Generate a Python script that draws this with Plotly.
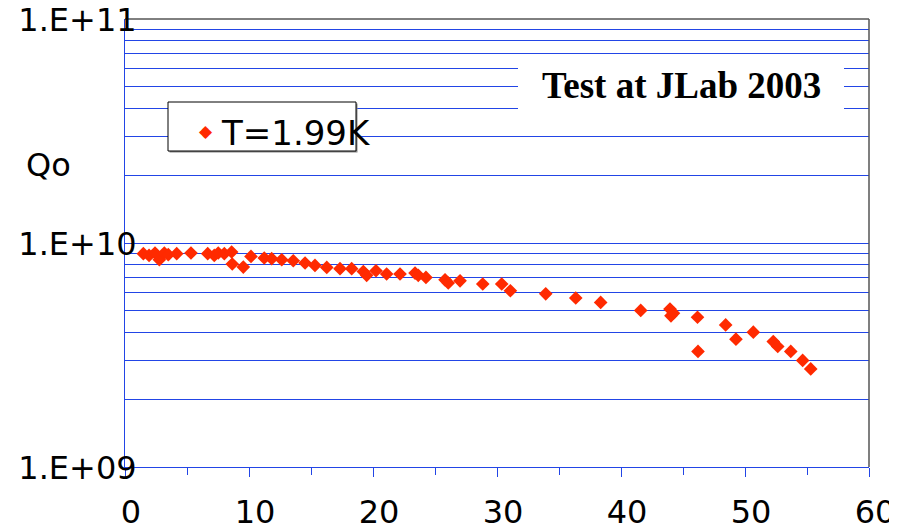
import plotly.graph_objects as go

# ---- data ----
energy = [1.48, 1.94, 2.42, 2.77, 3.17, 3.49, 4.17, 5.32, 6.67, 7.20, 7.52, 8.01,
          8.60, 8.65, 9.54, 10.16, 11.23, 11.83, 12.64, 13.57, 14.52, 15.32, 16.27,
          17.34, 18.28, 19.22, 19.49, 20.24, 21.10, 22.18, 23.39, 23.65, 24.27, 25.81,
          26.07, 27.02, 28.85, 30.38, 31.08, 33.93, 36.35, 38.36, 41.59, 43.95, 44.23,
          44.03, 46.17, 46.21, 48.44, 49.27, 50.67, 52.28, 52.64, 53.69, 54.65, 55.30]
q0_e9 = [8.96, 8.80, 9.02, 8.42, 9.02, 8.87, 8.96, 9.02, 8.96, 8.80, 9.02, 8.96,
         9.12, 8.06, 7.81, 8.71, 8.57, 8.51, 8.42, 8.33, 8.14, 7.94, 7.78,
         7.68, 7.68, 7.46, 7.17, 7.52, 7.27, 7.27, 7.34, 7.17, 7.02, 6.85,
         6.63, 6.78, 6.56, 6.56, 6.12, 5.93, 5.68, 5.43, 5.00, 5.07, 4.86,
         4.73, 4.66, 3.28, 4.31, 3.72, 4.00, 3.63, 3.45, 3.28, 2.99, 2.74]
q0 = [v * 1e9 for v in q0_e9]

series_name = "T=1.99K"
title_text = "Test at JLab 2003"
y_title = "Qo"
x_tickvals = [0, 10, 20, 30, 40, 50, 60]
x_ticktext = ["0", "10", "20", "30", "40", "50", "60"]
y_decades = [1e9, 1e10, 1e11]
y_decade_text = ["1.E+09", "1.E+10", "1.E+11"]

# gridline positions (every 1..9 x decade)
y_tickvals = []
y_ticktext = []
for d, lab in zip(y_decades[:-1], y_decade_text[:-1]):
    for m in range(1, 10):
        y_tickvals.append(m * d)
        y_ticktext.append(lab if m == 1 else "")
y_tickvals.append(y_decades[-1])
y_ticktext.append(y_decade_text[-1])

BLUE = "#2245e6"
RED = "#ff2a00"
FONT = "DejaVu Sans"

fig = go.Figure()
fig.add_trace(go.Scatter(
    x=energy, y=q0, mode="markers", name=series_name, showlegend=False,
    marker=dict(symbol="diamond", size=10.5, color=RED, line=dict(width=0)),
))

# page body has an 8px margin, so the figure is offset by (8, 8) in the window
fig.update_layout(
    template="none",
    width=897, height=531,
    margin=dict(l=117, r=36, t=11, b=72, pad=0),
    paper_bgcolor="white", plot_bgcolor="white",
    font=dict(family=FONT, size=32, color="black"),
    xaxis=dict(
        range=[0, 60], tickvals=x_tickvals, ticktext=x_ticktext,
        showgrid=False, zeroline=False, automargin=False,
        showline=True, linecolor=BLUE, linewidth=1,
        ticks="outside", ticklen=9, tickcolor=BLUE, tickwidth=1,
        minor=dict(dtick=5, ticks="outside", ticklen=7, tickcolor=BLUE, tickwidth=1, showgrid=False),
        tickfont=dict(family=FONT, size=32, color="black"),
        ticklabeloverflow="allow", ticklabelshift=6, ticklabelstandoff=8,
    ),
    yaxis=dict(
        type="log", range=[9, 11],
        tickvals=y_tickvals, ticktext=y_ticktext,
        showgrid=True, gridcolor=BLUE, gridwidth=1,
        zeroline=False, automargin=False,
        showline=True, linecolor=BLUE, linewidth=1,
        ticks="inside", ticklen=8, tickcolor=BLUE, tickwidth=1,
        tickfont=dict(family=FONT, size=32, color="black"),
        ticklabeloverflow="allow", ticklabelstandoff=-19, ticklabelshift=1,
    ),
)

W, H = 744.0, 448.0
def px(x):
    return (x - 125) / W
def py(y):
    return (467 - y) / H

shapes = [
    # top border (black) and right border (gray)
    dict(type="line", xref="paper", yref="paper", x0=0, x1=1, y0=1, y1=1,
         line=dict(color="black", width=1)),
    dict(type="line", xref="paper", yref="paper", x0=1, x1=1, y0=0, y1=1,
         line=dict(color="#555555", width=1.5)),
    # outer frame line at right edge
    dict(type="line", xref="paper", yref="paper", x0=px(894.5), x1=px(894.5), y0=py(531), y1=py(0),
         line=dict(color="black", width=2)),
    # title box (white, no border)
    dict(type="rect", xref="paper", yref="paper", x0=px(518), x1=px(844), y0=py(120), y1=py(54),
         fillcolor="white", line=dict(width=0)),
    # legend box shadow and box
    dict(type="rect", xref="paper", yref="paper", x0=px(169.5), x1=px(357.5), y0=py(152.5), y1=py(103.5),
         fillcolor="#888888", line=dict(width=0)),
    dict(type="rect", xref="paper", yref="paper", x0=px(168), x1=px(356), y0=py(151), y1=py(102),
         fillcolor="white", line=dict(color="black", width=1)),
]
fig.update_layout(shapes=shapes)

annotations = [
    dict(text=title_text, xref="paper", yref="paper", x=px(681), y=py(86),
         xanchor="center", yanchor="middle", showarrow=False,
         font=dict(family="Liberation Serif", size=37, color="black", weight="bold")),
    dict(text=series_name, xref="paper", yref="paper", x=px(219), y=py(133),
         xanchor="left", yanchor="middle", showarrow=False,
         font=dict(family=FONT, size=34, color="black")),
    dict(text="\u25c6", xref="paper", yref="paper", x=px(206), y=py(131),
         xanchor="center", yanchor="middle", showarrow=False,
         font=dict(family=FONT, size=17, color=RED)),
    dict(text=y_title, xref="paper", yref="paper", x=px(48), y=py(165),
         xanchor="center", yanchor="middle", showarrow=False,
         font=dict(family=FONT, size=32, color="black")),
]
fig.update_layout(annotations=annotations)

fig.write_html("out.html")
